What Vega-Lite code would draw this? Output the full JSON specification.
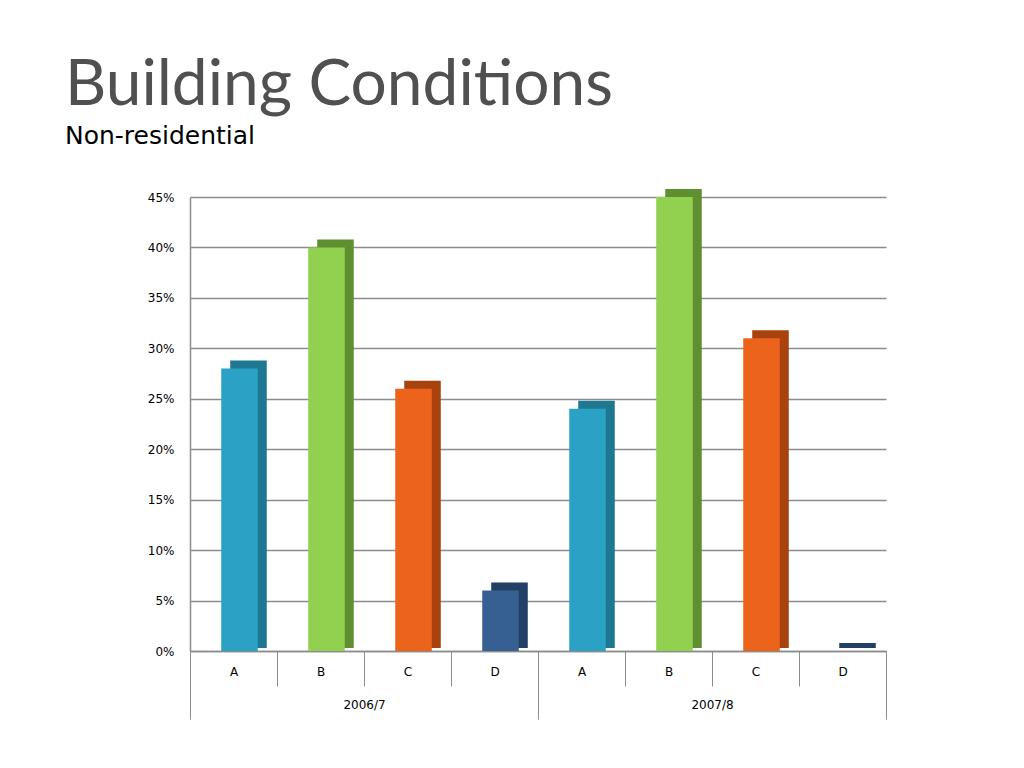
{
  "$schema": "https://vega.github.io/schema/vega-lite/v6.json",
  "width": 696,
  "height": 454,
  "padding": {"left": 65, "top": 54, "right": 10, "bottom": 10},
  "background": "white",
  "config": {"view": {"stroke": null}},
  "title": {
    "text": "Building Conditions",
    "subtitle": "Non-residential",
    "anchor": "start",
    "frame": "group",
    "dx": -125,
    "font": "Lato",
    "fontSize": 64,
    "fontWeight": "normal",
    "color": "#505050",
    "subtitleFont": "DejaVu Sans",
    "subtitleFontSize": 25,
    "subtitleColor": "#000000",
    "subtitlePadding": 6,
    "offset": 40
  },
  "data": {
    "values": [
      {"period": "2006/7", "cat": "A", "key": "2006/7 A", "value": 0.28},
      {"period": "2006/7", "cat": "B", "key": "2006/7 B", "value": 0.40},
      {"period": "2006/7", "cat": "C", "key": "2006/7 C", "value": 0.26},
      {"period": "2006/7", "cat": "D", "key": "2006/7 D", "value": 0.06},
      {"period": "2007/8", "cat": "A", "key": "2007/8 A", "value": 0.24},
      {"period": "2007/8", "cat": "B", "key": "2007/8 B", "value": 0.45},
      {"period": "2007/8", "cat": "C", "key": "2007/8 C", "value": 0.31},
      {"period": "2007/8", "cat": "D", "key": "2007/8 D", "value": 0.0}
    ]
  },
  "layer": [
    {
      "encoding": {
        "x": {
          "field": "key",
          "type": "nominal",
          "sort": null,
          "scale": {"paddingInner": 0, "paddingOuter": 0},
          "axis": {
            "title": null,
            "labelExpr": "slice(datum.label, -1)",
            "labelAngle": 0,
            "labelFont": "DejaVu Sans",
            "labelFontSize": 12,
            "labelColor": "#000000",
            "tickBand": "extent",
            "tickSize": 35,
            "tickColor": "#8c8c8c",
            "tickWidth": 1,
            "domainColor": "#8c8c8c",
            "domainWidth": 1.5,
            "labelPadding": -20
          }
        },
        "y": {
          "field": "value",
          "type": "quantitative",
          "scale": {"domain": [0, 0.45], "nice": false},
          "axis": {
            "title": null,
            "format": ".0%",
            "values": [0, 0.05, 0.1, 0.15, 0.2, 0.25, 0.3, 0.35, 0.4, 0.45],
            "labelFont": "DejaVu Sans",
            "labelFontSize": 12,
            "labelColor": "#000000",
            "ticks": false,
            "labelPadding": 16,
            "domainColor": "#8c8c8c",
            "domainWidth": 1.5,
            "grid": true,
            "gridColor": "#8c8c8c",
            "gridWidth": 1.5
          }
        }
      },
      "layer": [
        {
          "mark": {"type": "bar", "width": {"band": 0.42}, "xOffset": 15, "yOffset": -8, "y2Offset": -3},
          "encoding": {
            "y2": {"datum": 0},
            "color": {
              "field": "cat",
              "type": "nominal",
              "scale": {"domain": ["A", "B", "C", "D"], "range": ["#1f7892", "#5f8f30", "#a8420f", "#223f66"]},
              "legend": null
            }
          }
        },
        {
          "mark": {"type": "bar", "width": {"band": 0.42}, "xOffset": 6},
          "encoding": {
            "color": {
              "field": "cat",
              "type": "nominal",
              "scale": {"domain": ["A", "B", "C", "D"], "range": ["#2ba2c5", "#92d050", "#ec641c", "#366092"]},
              "legend": null
            }
          }
        }
      ],
      "resolve": {"scale": {"color": "independent"}}
    },
    {
      "mark": {"type": "point", "opacity": 0},
      "encoding": {
        "x": {
          "field": "period",
          "type": "nominal",
          "scale": {"paddingInner": 0, "paddingOuter": 0},
          "axis": {
            "orient": "bottom",
            "title": null,
            "labelAngle": 0,
            "labelFont": "DejaVu Sans",
            "labelFontSize": 12,
            "labelColor": "#000000",
            "tickBand": "extent",
            "tickSize": 68,
            "tickColor": "#8c8c8c",
            "tickWidth": 1,
            "domain": false,
            "labelPadding": -20
          }
        }
      }
    }
  ],
  "resolve": {"scale": {"x": "independent"}, "axis": {"x": "independent"}}
}
